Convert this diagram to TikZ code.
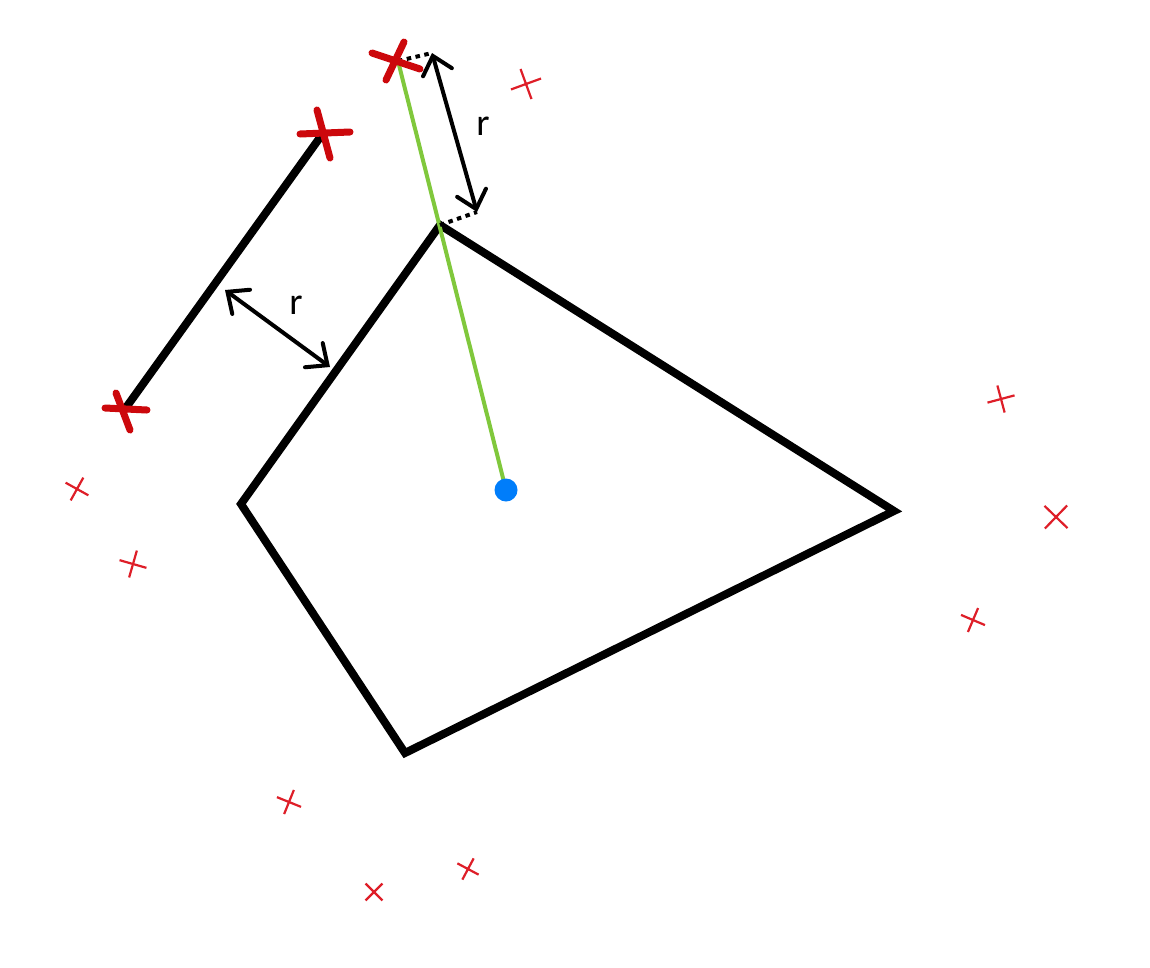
\documentclass[tikz,border=0pt]{standalone}
\usepackage{fontspec}
\setmainfont{Carlito}
\usetikzlibrary{arrows.meta}
\definecolor{xred}{RGB}{204,8,12}
\definecolor{tred}{RGB}{222,30,40}
\definecolor{lgreen}{RGB}{128,200,60}
\definecolor{dotblue}{RGB}{0,125,250}
\tikzset{
  edgeline/.style={line width=8pt, line join=miter},
  bigx/.style={xred, line width=7pt, line cap=round},
  smallx/.style={tred, line width=2.2pt},
  rarrow/.style={line width=4pt, {Straight Barb[length=17pt,width=30pt,line cap=round]}-{Straight Barb[length=17pt,width=30pt,line cap=round]}},
  dotseg/.style={line width=4pt, dash pattern=on 4.5pt off 4.5pt},
  rlabel/.style={font=\fontsize{38}{38}\selectfont, inner sep=0pt},
  xmark/.pic={\draw[smallx] (-1,0) -- (1,0) (0,-1) -- (0,1);}
}
\begin{document}
\begin{tikzpicture}[x=1pt,y=-1pt]
\useasboundingbox (0,0) rectangle (1150,967);
% points
\coordinate (p1) at (440,225);
\coordinate (p2) at (894,511);
\coordinate (p3) at (405,753);
\coordinate (p4) at (241,504);
\coordinate (A) at (398,61);
\coordinate (B) at (321,136);
\coordinate (C) at (125,409);
\coordinate (ctr) at (506,490);
\coordinate (ta1) at (432,53);
\coordinate (ta2) at (477,212);
\coordinate (la1) at (225,290);
\coordinate (la2) at (330,367);
% polygon
\draw[edgeline] (p1) -- (p2) -- (p3) -- (p4) -- cycle;
% segment between big crosses
\draw[line width=8pt] (B) -- (C);
% green line
\draw[lgreen, line width=4pt] (A) -- (ctr);
\fill[dotblue] (ctr) circle (11.5);
% dotted helper segments
\draw[dotseg] (A) -- (ta1);
\draw[dotseg] (p1) -- (ta2);
% r arrows
\draw[rarrow] (ta1) -- (ta2);
\draw[rarrow] (la1) -- (la2);
\node[rlabel] (r1) at (483,126) {r};
\node[rlabel] (r2) at (296,305) {r};
% big crosses
\draw[bigx] (372,53) -- (420,69) (404,42) -- (386,80);
\draw[bigx] (300,134) -- (350,132) (317,110) -- (330,158);
\draw[bigx] (105,408) -- (147,410) (116,393) -- (130,430);
% small crosses
\pic[rotate=20, scale=16] at (526,84) {xmark};
\pic[rotate=15, scale=14] at (1001,399) {xmark};
\pic[rotate=46, scale=16] at (1056,517) {xmark};
\pic[rotate=-23, scale=13] at (973,620) {xmark};
\pic[rotate=-29, scale=13] at (77,489) {xmark};
\pic[rotate=-16, scale=14] at (133,564) {xmark};
\pic[rotate=-22, scale=13] at (289,802) {xmark};
\pic[rotate=45, scale=12] at (374,892) {xmark};
\pic[rotate=-28, scale=12] at (468,869) {xmark};
\end{tikzpicture}
\end{document}
